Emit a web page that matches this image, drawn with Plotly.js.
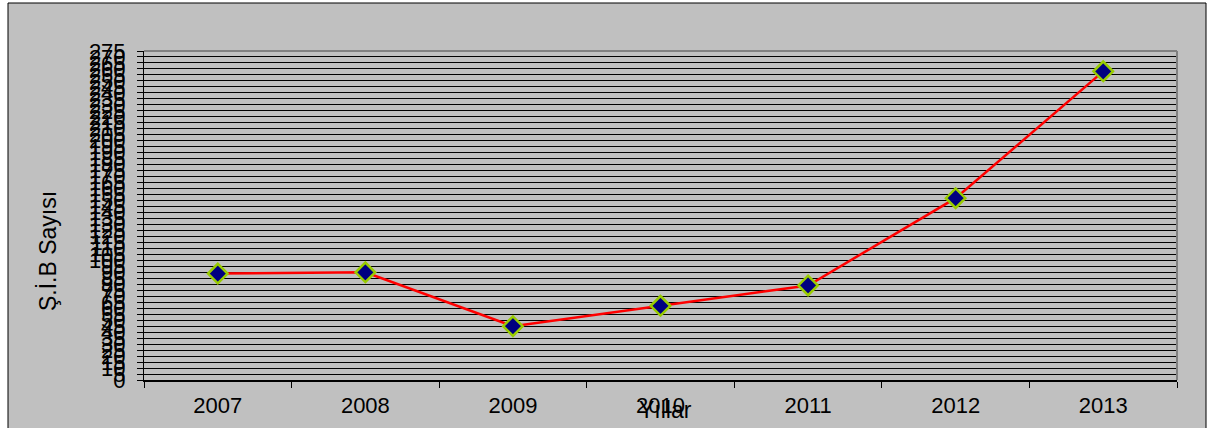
<!DOCTYPE html>
<html>
<head>
<meta charset="utf-8">
<script src="https://cdn.plot.ly/plotly-3.0.1.min.js"></script>
<style>
html,body{margin:0;padding:0;background:#fff;}
#chart{width:1210px;height:428px;}
</style>
</head>
<body>
<div id="chart"></div>
<script>
var years = ['2007','2008','2009','2010','2011','2012','2013'];
var sibCounts = [89, 90, 45, 62, 79, 152, 258];
var yTickValues = [];
for (var v = 0; v <= 275; v += 5) { yTickValues.push(v); }
var yAxisTitle = 'Ş.İ.B Sayısı';
var xAxisTitle = 'Yıllar';

var trace = {
  x: years,
  y: sibCounts,
  type: 'scatter',
  mode: 'lines+markers',
  line: {color: '#FF0000', width: 2.5},
  marker: {symbol: 'diamond', size: 15, color: '#000080', line: {color: '#99CC00', width: 2.5}},
  hoverinfo: 'x+y'
};

var L = 144, R = 1177, T = 51, B = 380;
var W = R - L, H = B - T;
function px(x){ return (x - L) / W; }
function py(y){ return (B - y) / H; }

var layout = {
  width: 1210, height: 428,
  margin: {l: L, r: 1210 - R, t: T, b: 428 - B, pad: 0},
  paper_bgcolor: '#FFFFFF',
  plot_bgcolor: '#FFFFFF',
  showlegend: false,
  font: {family: 'Liberation Sans, Arial, sans-serif', color: '#000000', size: 22},
  xaxis: {
    type: 'category',
    range: [-0.5, years.length - 0.5],
    tickson: 'boundaries',
    ticks: 'outside', ticklen: 6, tickwidth: 1, tickcolor: '#000000',
    showgrid: false,
    showline: true, linecolor: '#000000', linewidth: 2,
    zeroline: false,
    tickfont: {size: 22},
    ticklabelstandoff: 5,
    fixedrange: true
  },
  yaxis: {
    range: [0, 275],
    tickmode: 'array',
    tickvals: yTickValues,
    ticktext: yTickValues.map(String),
    ticks: 'outside', ticklen: 6, tickwidth: 1, tickcolor: '#000000',
    showgrid: true, gridcolor: '#000000', gridwidth: 1,
    showline: true, linecolor: '#000000', linewidth: 1,
    zeroline: false,
    tickfont: {size: 22},
    ticklabelstandoff: 7,
    fixedrange: true
  },
  shapes: [
    {type: 'rect', xref: 'paper', yref: 'paper', layer: 'below',
     x0: px(8), x1: px(1206), y0: py(445), y1: py(3),
     fillcolor: '#C0C0C0', line: {color: '#000000', width: 1}},
    {type: 'line', xref: 'paper', yref: 'paper', layer: 'above',
     x0: 0, x1: 1, y0: 1, y1: 1, line: {color: '#808080', width: 2}},
    {type: 'line', xref: 'paper', yref: 'paper', layer: 'above',
     x0: 1, x1: 1, y0: 0, y1: 1, line: {color: '#808080', width: 2}}
  ],
  annotations: [
    {text: yAxisTitle, xref: 'paper', yref: 'paper', x: px(48), y: py(251),
     xanchor: 'center', yanchor: 'middle', textangle: -90, showarrow: false,
     font: {size: 23}},
    {text: xAxisTitle, xref: 'paper', yref: 'paper', x: px(665), y: py(410),
     xanchor: 'center', yanchor: 'middle', showarrow: false,
     font: {size: 23}}
  ]
};

Plotly.newPlot('chart', [trace], layout, {displayModeBar: false, staticPlot: true});
</script>
</body>
</html>
